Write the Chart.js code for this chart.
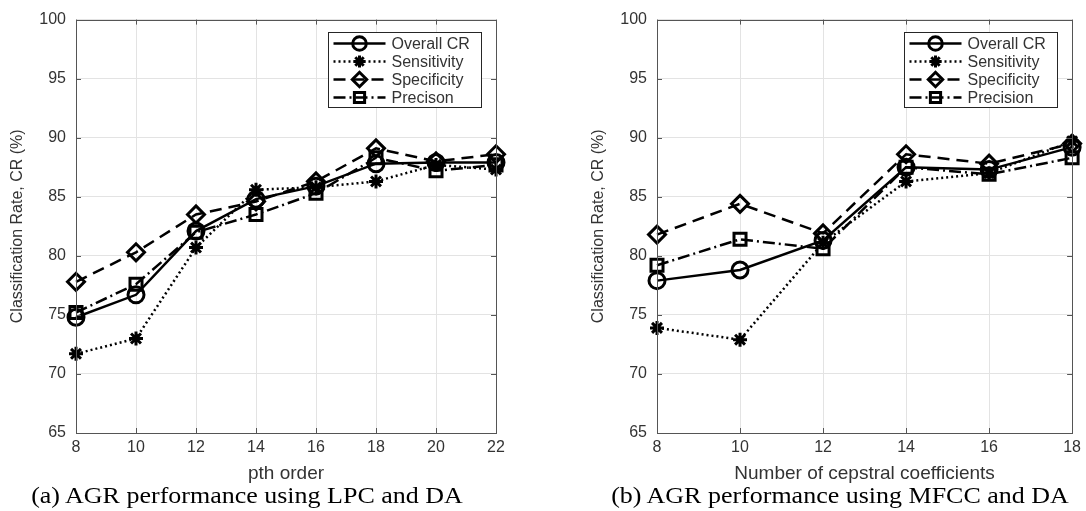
<!DOCTYPE html>
<html>
<head>
<meta charset="utf-8">
<script src="https://cdn.jsdelivr.net/npm/chart.js@4.4.1/dist/chart.umd.min.js"></script>
<style>
  body { margin: 0; background: #fff; width: 1086px; height: 511px; overflow: hidden; position: relative; }
  .wrap { position: absolute; top: 0; }
  .caption {
    position: absolute; top: 483px; font-family: "Liberation Serif", "Times New Roman", serif;
    font-size: 23px; color: #000; white-space: nowrap; text-align: center;
    transform: scaleX(1.13); transform-origin: center;
  }
</style>
</head>
<body>
<div class="wrap" style="left:0px; width:515px; height:485px;"><canvas id="chartA"></canvas></div>
<div class="wrap" style="left:581px; width:505px; height:485px;"><canvas id="chartB"></canvas></div>
<div class="caption" style="left:47px; width:400px;">(a) AGR performance using LPC and DA</div>
<div class="caption" style="left:630px; width:420px;">(b) AGR performance using MFCC and DA</div>

<script>
// Data
const pthOrder = ['8', '10', '12', '14', '16', '18', '20', '22'];
const overallA = [74.8, 76.7, 82.1, 84.8, 85.9, 87.8, 87.9, 87.9];
const sensitivityA = [71.7, 73.0, 80.7, 85.6, 85.8, 86.3, 87.7, 87.3];
const specificityA = [77.8, 80.3, 83.5, 84.6, 86.3, 89.1, 88.0, 88.6];
const precisionA = [75.2, 77.6, 82.0, 83.5, 85.3, 88.3, 87.2, 87.7];
const seriesNamesA = ['Overall CR', 'Sensitivity', 'Specificity', 'Precison'];

const cepstralCount = ['8', '10', '12', '14', '16', '18'];
const overallB = [77.9, 78.8, 81.3, 87.5, 87.3, 89.2];
const sensitivityB = [73.9, 72.9, 81.1, 86.3, 87.0, 89.7];
const specificityB = [81.8, 84.4, 81.9, 88.6, 87.8, 89.5];
const precisionB = [79.2, 81.4, 80.6, 87.5, 86.9, 88.3];
const seriesNamesB = ['Overall CR', 'Sensitivity', 'Specificity', 'Precision'];

const yMin = 65, yMax = 100, yStep = 5;
const yTitle = 'Classification Rate, CR (%)';

// MATLAB-like line/marker styles
const styles = [
    { dash: [], marker: 'circle', radius: 8 },
    { dash: [2, 3], marker: 'star', radius: 7 },
    { dash: [12, 7], marker: 'rectRot', radius: 8.5 },
    { dash: [12, 4, 2, 4], marker: 'rect', radius: 8.5 }
];

const textColor = '#333333';
const sansFont = '"Liberation Sans", Arial, sans-serif';

function drawMarker(ctx, style, r, x, y) {
    ctx.beginPath();
    if (style === 'circle') {
        ctx.arc(x, y, r, 0, Math.PI * 2);
    } else if (style === 'star') {
        for (let a = 0; a < 4; a++) {
            const ang = a * Math.PI / 4;
            ctx.moveTo(x - Math.cos(ang) * r, y - Math.sin(ang) * r);
            ctx.lineTo(x + Math.cos(ang) * r, y + Math.sin(ang) * r);
        }
    } else if (style === 'rectRot') {
        ctx.moveTo(x - r, y); ctx.lineTo(x, y - r); ctx.lineTo(x + r, y); ctx.lineTo(x, y + r); ctx.closePath();
    } else {
        const s = r * Math.SQRT1_2;
        ctx.rect(x - s, y - s, 2 * s, 2 * s);
    }
    ctx.stroke();
}

// axes box, inward ticks and the boxed legend
const matlabFrame = {
    id: 'matlabFrame',
    afterDatasetsDraw(chart) {
        const { ctx, chartArea: a, scales } = chart;
        ctx.save();
        ctx.strokeStyle = '#555555';
        ctx.lineWidth = 1;
        ctx.setLineDash([]);
        ctx.beginPath();
        scales.x.ticks.forEach((t, i) => {
            const px = Math.round(scales.x.getPixelForTick(i)) + 0.5;
            ctx.moveTo(px, a.bottom); ctx.lineTo(px, a.bottom - 5);
            ctx.moveTo(px, a.top); ctx.lineTo(px, a.top + 5);
        });
        scales.y.ticks.forEach((t, i) => {
            const py = Math.round(scales.y.getPixelForTick(i)) + 0.5;
            ctx.moveTo(a.left, py); ctx.lineTo(a.left + 5, py);
            ctx.moveTo(a.right, py); ctx.lineTo(a.right - 5, py);
        });
        ctx.stroke();
        ctx.strokeRect(Math.round(a.left) + 0.5, Math.round(a.top) + 0.5,
            Math.round(a.right - a.left), Math.round(a.bottom - a.top));

        // legend
        const w = 153, h = 75;
        const bx = Math.round(a.right - 15 - w) + 0.5, by = Math.round(a.top + 12) + 0.5;
        ctx.fillStyle = '#fff';
        ctx.fillRect(bx, by, w, h);
        ctx.strokeStyle = '#262626';
        ctx.strokeRect(bx, by, w, h);
        ctx.font = '16px ' + sansFont;
        ctx.textBaseline = 'middle';
        chart.data.datasets.forEach((ds, i) => {
            const st = styles[i];
            const ry = by + 11 + i * 18;
            ctx.strokeStyle = '#000';
            ctx.lineWidth = 2.5;
            ctx.setLineDash(st.dash);
            ctx.beginPath();
            ctx.moveTo(bx + 5, ry); ctx.lineTo(bx + 57, ry);
            ctx.stroke();
            ctx.setLineDash([]);
            ctx.lineWidth = 3;
            drawMarker(ctx, st.marker, st.radius * 0.85, bx + 31, ry);
            ctx.fillStyle = textColor;
            ctx.fillText(ds.label, bx + 63, ry + 1);
        });
        ctx.restore();
    }
};

function buildChart(canvasId, labels, series, names, xTitle, padRight) {
    const datasets = series.map((values, i) => ({
        label: names[i],
        data: values,
        borderColor: '#000',
        borderWidth: 2.5,
        borderDash: styles[i].dash,
        pointStyle: styles[i].marker,
        pointRadius: styles[i].radius,
        pointHoverRadius: styles[i].radius,
        pointBorderWidth: 3,
        pointBorderColor: '#000',
        pointBackgroundColor: 'rgba(0,0,0,0)',
        tension: 0,
        fill: false,
        clip: false,
        order: series.length - i
    }));

    return new Chart(document.getElementById(canvasId), {
        type: 'line',
        data: { labels: labels, datasets: datasets },
        plugins: [matlabFrame],
        options: {
            responsive: true,
            maintainAspectRatio: false,
            animation: false,
            layout: { padding: { top: 16, right: padRight, left: 0, bottom: 0 } },
            plugins: {
                legend: { display: false },
                tooltip: { enabled: false }
            },
            scales: {
                x: {
                    type: 'category',
                    offset: false,
                    grid: { color: '#e3e3e3', drawTicks: false },
                    border: { display: false },
                    ticks: { color: textColor, font: { family: sansFont, size: 16 }, padding: 5, maxRotation: 0 },
                    title: { display: true, text: xTitle, color: textColor, font: { family: sansFont, size: 19 }, padding: { top: 3, bottom: 0 } },
                    afterFit(scale) { scale.height = 52; }
                },
                y: {
                    min: yMin,
                    max: yMax,
                    grid: { color: '#e3e3e3', drawTicks: false },
                    border: { display: false },
                    ticks: { stepSize: yStep, color: textColor, font: { family: sansFont, size: 16 }, padding: 10 },
                    title: { display: true, text: yTitle, color: textColor, font: { family: sansFont, size: 16 }, padding: { top: 8, bottom: 0 } },
                    afterFit(scale) { scale.width = 76; }
                }
            }
        }
    });
}

buildChart('chartA', pthOrder,
    [overallA, sensitivityA, specificityA, precisionA], seriesNamesA, 'pth order', 19);

buildChart('chartB', cepstralCount,
    [overallB, sensitivityB, specificityB, precisionB], seriesNamesB, 'Number of cepstral coefficients', 10);
</script>
</body>
</html>
